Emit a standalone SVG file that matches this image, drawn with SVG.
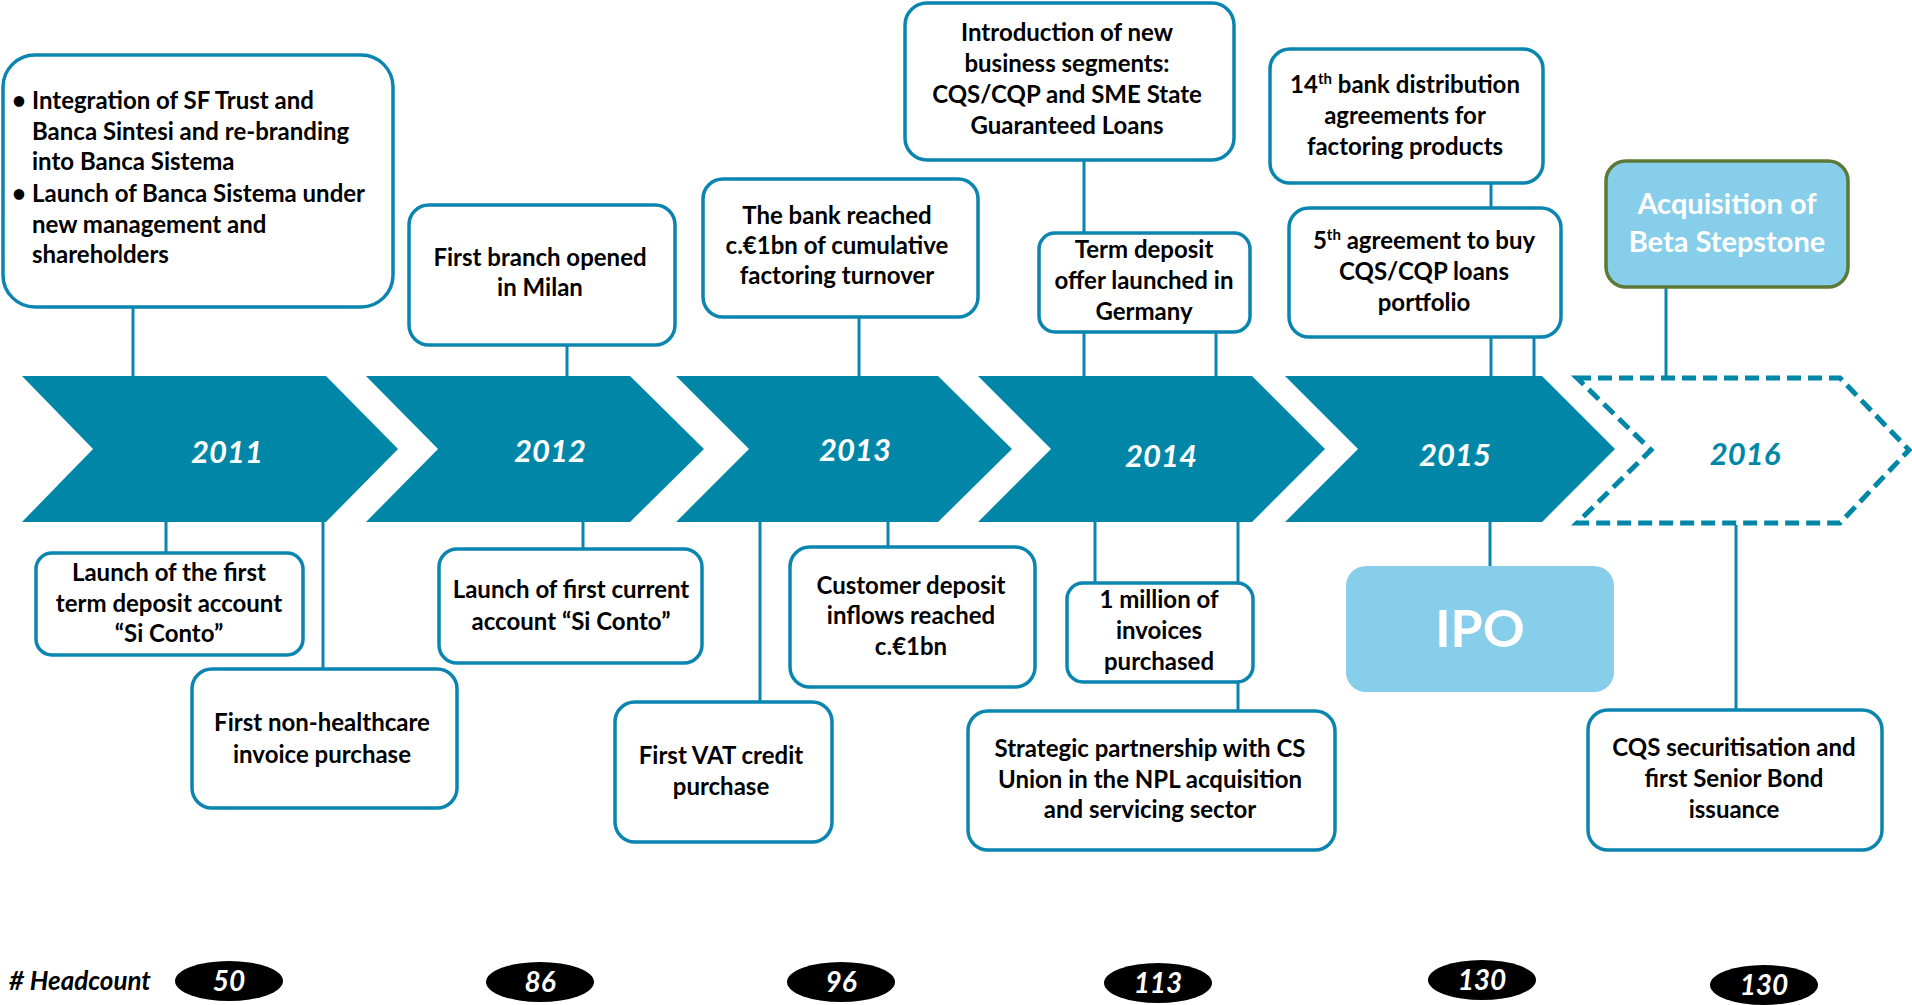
<svg xmlns="http://www.w3.org/2000/svg" width="1912" height="1005" viewBox="0 0 1912 1005">
  <style>
    .box { fill: #ffffff; stroke: #0A85B0; stroke-width: 3.5; }
    .hl { fill: #87CEEB; }
    .acq { fill: #87CEEB; stroke: #5A7A35; stroke-width: 3.5; }
    .chev { fill: #0087A7; }
    .chev-dash { fill: none; stroke: #0087A7; stroke-width: 5; stroke-dasharray: 14 7; }
    .conn line { stroke: #0A85B0; stroke-width: 3; }
    .t { font-family: Lato, "Liberation Sans", sans-serif; font-weight: bold; font-size: 24px; fill: #000000; text-anchor: middle; }
    .tl { text-anchor: start; }
    .w { fill: #ffffff; }
    .year { font-family: Lato, "Liberation Sans", sans-serif; font-weight: bold; font-style: italic; font-size: 31px; fill: #ffffff; text-anchor: middle; }
    .hc { fill: #000000; }
    .hcn { font-family: Lato, "Liberation Sans", sans-serif; font-weight: bold; font-style: italic; font-size: 28px; fill: #ffffff; text-anchor: middle; }
    .sup { font-size: 15px; }
  </style>

  <!-- connectors between events and the timeline -->
  <g id="connectors" class="conn">
    <line x1="133" y1="307" x2="133" y2="378"/>
    <line x1="567" y1="345" x2="567" y2="378"/>
    <line x1="859" y1="317" x2="859" y2="378"/>
    <line x1="1084" y1="160" x2="1084" y2="233"/>
    <line x1="1084" y1="332" x2="1084" y2="378"/>
    <line x1="1216" y1="332" x2="1216" y2="378"/>
    <line x1="1491" y1="183" x2="1491" y2="208"/>
    <line x1="1491" y1="337" x2="1491" y2="378"/>
    <line x1="1534" y1="337" x2="1534" y2="378"/>
    <line x1="1666" y1="287" x2="1666" y2="378"/>
    <line x1="166" y1="520" x2="166" y2="553"/>
    <line x1="323" y1="520" x2="323" y2="669"/>
    <line x1="583" y1="520" x2="583" y2="549"/>
    <line x1="760" y1="520" x2="760" y2="702"/>
    <line x1="888" y1="520" x2="888" y2="547"/>
    <line x1="1095" y1="520" x2="1095" y2="583"/>
    <line x1="1238" y1="520" x2="1238" y2="583"/>
    <line x1="1238" y1="682" x2="1238" y2="711"/>
    <line x1="1490" y1="520" x2="1490" y2="566"/>
    <line x1="1736" y1="525" x2="1736" y2="710"/>
  </g>

  <!-- timeline chevrons -->
  <g id="y2011">
    <polygon class="chev" points="22,376 326,376 398,449 326,522 22,522 93,449"/>
    <text class="year" x="227" y="463">2011</text>
  </g>
  <g id="y2012">
    <polygon class="chev" points="366,376 630,376 704,449 630,522 366,522 438,449"/>
    <text class="year" x="550" y="462">2012</text>
  </g>
  <g id="y2013">
    <polygon class="chev" points="676,376 938,376 1012,449 938,522 676,522 749,449"/>
    <text class="year" x="855" y="461">2013</text>
  </g>
  <g id="y2014">
    <polygon class="chev" points="978,376 1252,376 1325,449 1252,522 978,522 1051,449"/>
    <text class="year" x="1161" y="467">2014</text>
  </g>
  <g id="y2015">
    <polygon class="chev" points="1285,376 1542,376 1615,449 1542,522 1285,522 1358,449"/>
    <text class="year" x="1455" y="466">2015</text>
  </g>
  <g id="y2016">
    <polygon class="chev-dash" points="1577,378 1840,378 1909,450 1840,523 1577,523 1651,450"/>
    <text class="year" x="1745" y="465" style="fill:#0087A7">2016</text>
  </g>

  <!-- events above the timeline -->
  <g id="e-integration">
    <rect class="box" x="3" y="55" width="390" height="252" rx="32"/>
    <text class="t tl" x="12" y="109">•</text>
    <text class="t tl" x="32" y="109">Integration of SF Trust and</text>
    <text class="t tl" x="32" y="140">Banca Sintesi and re-branding</text>
    <text class="t tl" x="32" y="170">into Banca Sistema</text>
    <text class="t tl" x="12" y="202">•</text>
    <text class="t tl" x="32" y="202">Launch of Banca Sistema under</text>
    <text class="t tl" x="32" y="233">new management and</text>
    <text class="t tl" x="32" y="263">shareholders</text>
  </g>
  <g id="e-milan">
    <rect class="box" x="409" y="205" width="266" height="140" rx="20"/>
    <text class="t" x="540" y="266">First branch opened</text>
    <text class="t" x="540" y="296">in Milan</text>
  </g>
  <g id="e-factoring">
    <rect class="box" x="703" y="179" width="275" height="138" rx="20"/>
    <text class="t" x="837" y="224">The bank reached</text>
    <text class="t" x="837" y="254">c.€1bn of cumulative</text>
    <text class="t" x="837" y="284">factoring turnover</text>
  </g>
  <g id="e-segments">
    <rect class="box" x="905" y="3" width="329" height="157" rx="22"/>
    <text class="t" x="1067" y="41">Introduction of new</text>
    <text class="t" x="1067" y="72">business segments:</text>
    <text class="t" x="1067" y="103">CQS/CQP and SME State</text>
    <text class="t" x="1067" y="134">Guaranteed Loans</text>
  </g>
  <g id="e-germany">
    <rect class="box" x="1039" y="233" width="211" height="99" rx="16"/>
    <text class="t" x="1144" y="258">Term deposit</text>
    <text class="t" x="1144" y="289">offer launched in</text>
    <text class="t" x="1144" y="320">Germany</text>
  </g>
  <g id="e-distribution">
    <rect class="box" x="1270" y="49" width="273" height="134" rx="20"/>
    <text class="t" x="1405" y="93">14<tspan class="sup" dy="-9">th</tspan><tspan dy="9"> bank distribution</tspan></text>
    <text class="t" x="1405" y="124">agreements for</text>
    <text class="t" x="1405" y="155">factoring products</text>
  </g>
  <g id="e-cqs-loans">
    <rect class="box" x="1289" y="208" width="272" height="129" rx="20"/>
    <text class="t" x="1424" y="249">5<tspan class="sup" dy="-9">th</tspan><tspan dy="9"> agreement to buy</tspan></text>
    <text class="t" x="1424" y="280">CQS/CQP loans</text>
    <text class="t" x="1424" y="311">portfolio</text>
  </g>
  <g id="e-acquisition">
    <rect class="acq" x="1606" y="161" width="242" height="126" rx="20"/>
    <text class="t w" x="1727" y="214" style="font-size:29px">Acquisition of</text>
    <text class="t w" x="1727" y="252" style="font-size:29px">Beta Stepstone</text>
  </g>

  <!-- events below the timeline -->
  <g id="e-si-conto">
    <rect class="box" x="36" y="553" width="267" height="102" rx="16"/>
    <text class="t" x="169" y="581">Launch of the first</text>
    <text class="t" x="169" y="612">term deposit account</text>
    <text class="t" x="169" y="642">“Si Conto”</text>
  </g>
  <g id="e-non-healthcare">
    <rect class="box" x="192" y="669" width="265" height="139" rx="20"/>
    <text class="t" x="322" y="731">First non-healthcare</text>
    <text class="t" x="322" y="763">invoice purchase</text>
  </g>
  <g id="e-current-account">
    <rect class="box" x="439" y="549" width="263" height="114" rx="18"/>
    <text class="t" x="571" y="598">Launch of first current</text>
    <text class="t" x="571" y="630">account “Si Conto”</text>
  </g>
  <g id="e-vat">
    <rect class="box" x="615" y="702" width="217" height="140" rx="20"/>
    <text class="t" x="721" y="764">First VAT credit</text>
    <text class="t" x="721" y="795">purchase</text>
  </g>
  <g id="e-deposits">
    <rect class="box" x="790" y="547" width="245" height="140" rx="20"/>
    <text class="t" x="911" y="594">Customer deposit</text>
    <text class="t" x="911" y="624">inflows reached</text>
    <text class="t" x="911" y="655">c.€1bn</text>
  </g>
  <g id="e-invoices">
    <rect class="box" x="1067" y="583" width="186" height="99" rx="16"/>
    <text class="t" x="1159" y="608">1 million of</text>
    <text class="t" x="1159" y="639">invoices</text>
    <text class="t" x="1159" y="670">purchased</text>
  </g>
  <g id="e-npl">
    <rect class="box" x="968" y="711" width="367" height="139" rx="20"/>
    <text class="t" x="1150" y="757">Strategic partnership with CS</text>
    <text class="t" x="1150" y="788">Union in the NPL acquisition</text>
    <text class="t" x="1150" y="818">and servicing sector</text>
  </g>
  <g id="e-ipo">
    <rect class="hl" x="1346" y="566" width="268" height="126" rx="20"/>
    <text class="t w" x="1480" y="647" style="font-size:52px">IPO</text>
  </g>
  <g id="e-securitisation">
    <rect class="box" x="1588" y="710" width="294" height="140" rx="20"/>
    <text class="t" x="1734" y="756">CQS securitisation and</text>
    <text class="t" x="1734" y="787">first Senior Bond</text>
    <text class="t" x="1734" y="818">issuance</text>
  </g>

  <!-- headcount row -->
  <g id="headcount">
    <text x="9" y="990" style="font-family:Lato,'Liberation Sans',sans-serif;font-weight:bold;font-style:italic;font-size:26px;fill:#000"># Headcount</text>
    <ellipse class="hc" cx="229" cy="981" rx="54" ry="20"/>
    <text class="hcn" x="229" y="991">50</text>
    <ellipse class="hc" cx="540" cy="982" rx="54" ry="20"/>
    <text class="hcn" x="540" y="992">86</text>
    <ellipse class="hc" cx="841" cy="982" rx="54" ry="20"/>
    <text class="hcn" x="841" y="992">96</text>
    <ellipse class="hc" cx="1158" cy="983" rx="54" ry="20"/>
    <text class="hcn" x="1158" y="993">113</text>
    <ellipse class="hc" cx="1482" cy="980" rx="54" ry="20"/>
    <text class="hcn" x="1482" y="990">130</text>
    <ellipse class="hc" cx="1764" cy="985" rx="54" ry="20"/>
    <text class="hcn" x="1764" y="995">130</text>
  </g>
</svg>
